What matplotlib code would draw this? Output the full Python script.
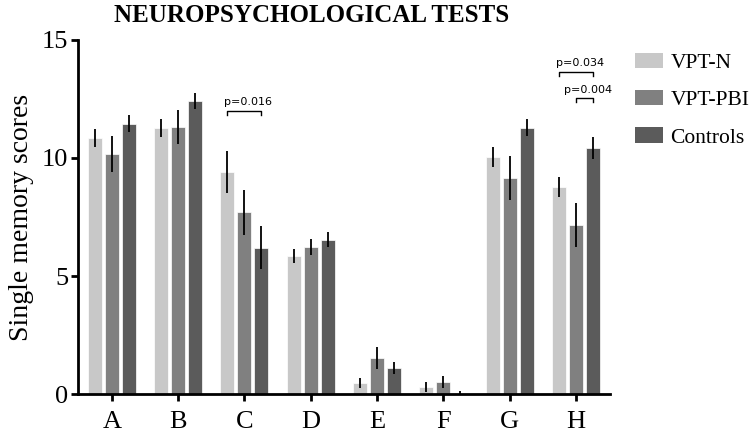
import numpy as np
from matplotlib import pyplot as plt
from matplotlib.patches import Patch

#%% Data
tests = ['A', 'B', 'C', 'D', 'E', 'F', 'G', 'H']
groups = ['VPT-N', 'VPT-PBI', 'Controls']

vpt_n = [10.85, 11.27, 9.4, 5.85, 0.47, 0.3, 10.05, 8.77]
vpt_n_err = [0.37, 0.4, 0.9, 0.3, 0.2, 0.2, 0.42, 0.44]
vpt_pbi = [10.17, 11.31, 7.7, 6.23, 1.53, 0.51, 9.14, 7.16]
vpt_pbi_err = [0.76, 0.72, 0.95, 0.34, 0.45, 0.25, 0.93, 0.92]
controls = [11.44, 12.41, 6.2, 6.53, 1.12, 0.0, 11.28, 10.42]
controls_err = [0.36, 0.34, 0.9, 0.32, 0.25, 0.13, 0.36, 0.47]

# (test index, group a, group b, bracket height, label)
brackets = [(2, 0, 2, 11.99, 'p=0.016'),
            (7, 0, 2, 13.66, 'p=0.034'),
            (7, 1, 2, 12.53, 'p=0.004')]

colors = ['#c8c8c8', '#808080', '#5b5b5b']

#%% Plot
plt.rcParams['font.family'] = 'Liberation Serif'
fig = plt.figure(figsize=(7.5, 4.34), dpi=100)
ax = fig.add_axes([0.104, 0.092, 0.709, 0.816])

x = np.arange(len(tests))
width = 0.21
offset = 0.256
series = [(vpt_n, vpt_n_err), (vpt_pbi, vpt_pbi_err), (controls, controls_err)]
for i, (vals, errs) in enumerate(series):
    pos = x + (i - 1) * offset
    ax.bar(pos, vals, width, color=colors[i], edgecolor='white', linewidth=0.5, zorder=2)
    ax.errorbar(pos, vals, yerr=errs, fmt='none', ecolor='black', elinewidth=1.3,
                capsize=0, zorder=3)

for t, a, b, h, lab in brackets:
    xa = t + (a - 1) * offset
    xb = t + (b - 1) * offset
    ax.plot([xa, xa, xb, xb], [h - 0.18, h, h, h - 0.18], color='black', lw=1)
    ax.text((xa + xb) / 2 + 0.06, h + 0.15, lab, ha='center', va='bottom',
            fontsize=8, family='DejaVu Sans')

ax.set_xlim(-0.51, 7.51)
ax.set_ylim(0, 15)
ax.set_yticks([0, 5, 10, 15])
ax.set_xticks(x)
ax.set_xticklabels(tests)
ax.tick_params(axis='both', labelsize=19, width=2, length=5)
ax.tick_params(axis='x', pad=7)
ax.tick_params(axis='y', pad=2)
for s in ['top', 'right']:
    ax.spines[s].set_visible(False)
for s in ['left', 'bottom']:
    ax.spines[s].set_linewidth(2)
ax.set_ylabel('Single memory scores', fontsize=20, labelpad=6)

fig.suptitle('NEUROPSYCHOLOGICAL TESTS', fontsize=18, fontweight='bold', x=0.416, y=0.99)

handles = [Patch(facecolor=c, edgecolor='none') for c in colors]
fig.legend(handles, groups, loc='upper left', bbox_to_anchor=(0.832, 0.903), frameon=False,
           fontsize=15.5, handlelength=1.3, handleheight=0.7, handletextpad=0.35,
           labelspacing=0.8, borderpad=0)

plt.savefig('out.png', dpi=100)
